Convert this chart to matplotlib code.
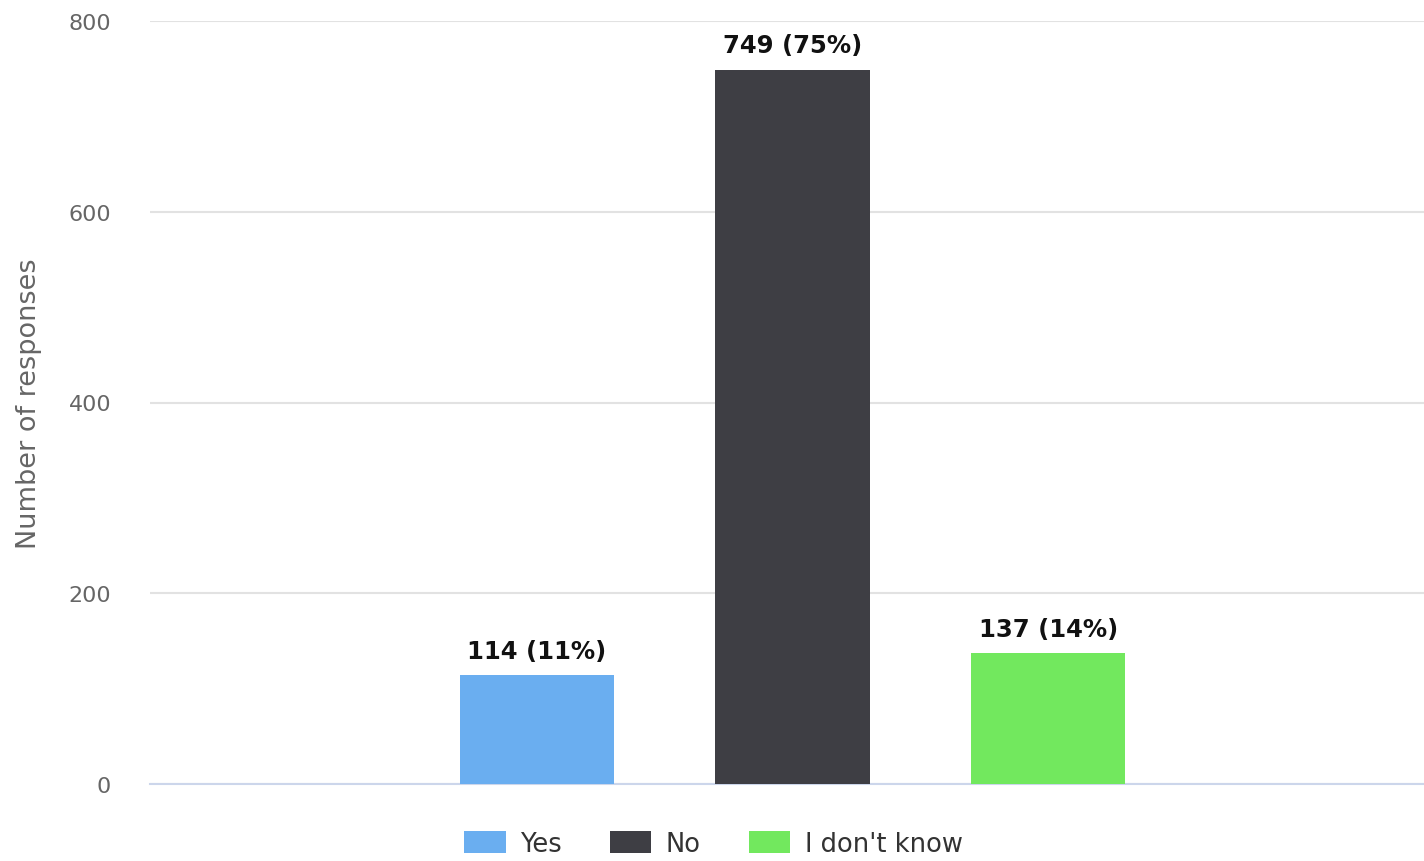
import matplotlib
matplotlib.use("Agg")
import matplotlib.pyplot as plt
from matplotlib.patches import Patch

categories = ["Yes", "No", "I don't know"]
counts = [114, 749, 137]
percents = [11, 75, 14]
colors = ["#6aaef0", "#3e3e44", "#72e85e"]
yticks = [0, 200, 400, 600, 800]

plt.rcParams['font.family'] = ['DejaVu Sans']
fig = plt.figure(figsize=(14.24, 8.62), dpi=100)
ax = fig.add_axes([150/1424, 77/862, 1274/1424, 763/862])

x = list(range(len(categories)))
bars = ax.bar(x, counts, width=0.605, color=colors, zorder=3)
for xi, c, p in zip(x, counts, percents):
    ax.annotate(f"{c} ({p}%)", (xi, c), xytext=(0, 9), textcoords="offset points",
                ha="center", va="bottom", fontsize=17.5, fontweight="bold", color="#111111")

ax.set_xlim(-1.515, 3.471)
ax.set_ylim(0, 800)
ax.set_yticks(yticks)
ax.set_yticklabels([str(t) for t in yticks], fontsize=16, color="#666666")
ax.grid(axis="y", color="#e2e2e2", linewidth=1.5, zorder=0)
ax.set_xticks([])
for s in ["top", "right", "left"]:
    ax.spines[s].set_visible(False)
ax.spines["bottom"].set_color("#ccd6eb")
ax.spines["bottom"].set_linewidth(1.5)
ax.tick_params(axis="y", length=0, pad=28)
ax.set_ylabel("Number of responses", fontsize=19.5, color="#666666")
ax.yaxis.set_label_coords(-0.085, 0.5)

handles = [Patch(facecolor=c, edgecolor="none") for c in colors]
fig.legend(handles, categories, loc="center", bbox_to_anchor=(0.501, 17/862), ncol=3,
           frameon=False, fontsize=18.5, handlelength=1.6, handleheight=0.95,
           columnspacing=1.9, handletextpad=0.55, labelcolor="#333333")

fig.savefig("out.png", dpi=100)
